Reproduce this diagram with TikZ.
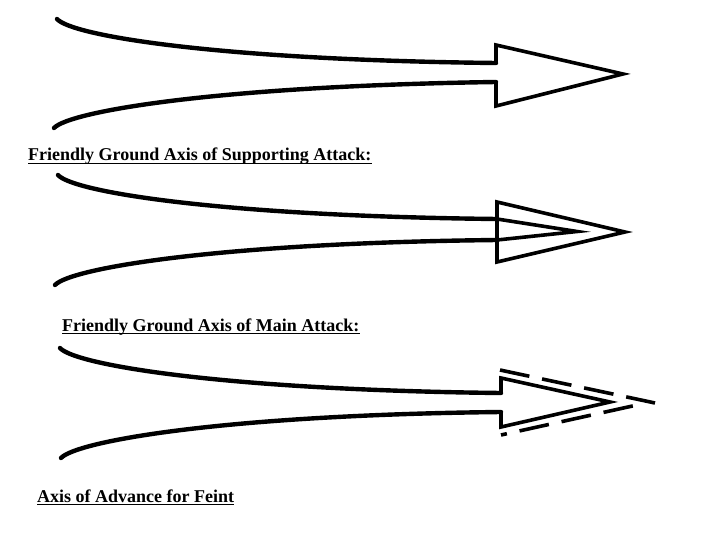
\documentclass[tikz,border=0pt]{standalone}
\usepackage{fontspec}
\setmainfont{Liberation Serif}
\begin{document}
\begin{tikzpicture}[x=1pt,y=-1pt,
  curve/.style={line width=4.4pt,line cap=round},
  headline/.style={line width=3.6pt,line join=miter},
  feintline/.style={line width=3.6pt,dash pattern=on 30pt off 13pt},
  lbl/.style={anchor=base west,inner sep=0pt,font=\fontsize{18}{21}\selectfont\bfseries},
  uline/.style={line width=1.4pt}]
\useasboundingbox (0,0) rectangle (720,540);

% Arrow 1: Supporting attack
\draw[curve] (57,19) .. controls (72,36) and (220,60) .. (496,63);
\draw[curve] (54,128) .. controls (70,111) and (220,86) .. (496,82);
\draw[headline] (496,63) -- (496,45) -- (623,74) -- (496,106) -- (496,82);
\node[lbl] (t1) at (28,161) {Friendly Ground Axis of Supporting Attack:};
\draw[uline] ([yshift=-2.5pt]t1.base west) -- ([yshift=-2.5pt]t1.base east);

% Arrow 2: Main attack
\draw[curve] (58,175) .. controls (73,192) and (220,216) .. (497,219);
\draw[curve] (55,285) .. controls (71,268) and (220,243) .. (497,240);
\draw[headline] (497,202) -- (625,232) -- (497,262) -- cycle;
\draw[headline] (497,219) -- (577,231.5) -- (497,240);
\node[lbl] (t2) at (62,331) {Friendly Ground Axis of Main Attack:};
\draw[uline] ([yshift=-2.5pt]t2.base west) -- ([yshift=-2.5pt]t2.base east);

% Arrow 3: Feint
\draw[curve] (60,348) .. controls (75,365) and (225,390) .. (501,393);
\draw[curve] (61,458) .. controls (77,441) and (225,415) .. (501,412);
\draw[headline] (501,393) -- (501,378) -- (610,402) -- (501,427) -- (501,412);
\draw[feintline] (500,370) -- (655,403);
\draw[feintline,dash phase=24pt] (501,435) -- (637,405);
\node[lbl] (t3) at (37,502) {Axis of Advance for Feint};
\draw[uline] ([yshift=-2.5pt]t3.base west) -- ([yshift=-2.5pt]t3.base east);
\end{tikzpicture}
\end{document}
